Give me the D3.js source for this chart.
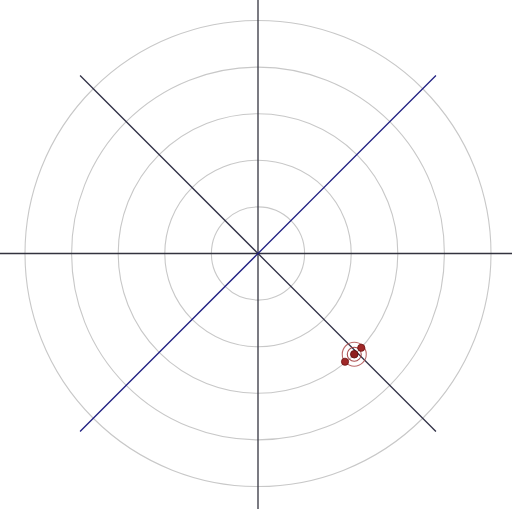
<!DOCTYPE html>
<html><head><meta charset="utf-8">
<script src="https://cdn.jsdelivr.net/npm/d3@7"></script>
<style>html,body{margin:0;padding:0;background:#fff;}svg{display:block;}</style>
</head><body>
<svg id="chart" width="512" height="509"></svg>
<script>
// Data
const ringValues = [1, 2, 3, 4, 5];
const axisAngles = [0, 90];           // full-length axes (degrees, clockwise from east)
const diagAngles = [45, 135];         // diagonal axes
const diagExtent = 5.4;               // diagonal half-length in radial units
const pointAngles = [42.4, 51.2];     // individual points (degrees)
const pointRadii = [3.0, 2.98];
const meanAngle = [46.3];
const meanRadius = [2.99];

const svg = d3.select("#chart");
const cx = 258, cy = 253.5;
const r = d3.scaleLinear().domain([0, 5]).range([0, 233]);
const g = svg.append("g").attr("transform", `translate(${cx},${cy})`);
const rad = a => a * Math.PI / 180;

g.selectAll("circle.ring").data(ringValues).enter().append("circle")
  .attr("class", "ring").attr("r", d => r(d))
  .attr("fill", "none").attr("stroke", "#c8c8c8").attr("stroke-width", 1.1);

g.selectAll("line.axis").data(axisAngles).enter().append("line")
  .attr("x1", d => -r(6) * Math.cos(rad(d))).attr("y1", d => -r(6) * Math.sin(rad(d)))
  .attr("x2", d => r(6) * Math.cos(rad(d))).attr("y2", d => r(6) * Math.sin(rad(d)))
  .attr("stroke", "#33333f").attr("stroke-width", 1.3);

const diagColors = ["#2e2e44", "#1e1e80"];
g.selectAll("line.diag").data(diagAngles).enter().append("line")
  .attr("x1", d => -r(diagExtent) * Math.cos(rad(d))).attr("y1", d => -r(diagExtent) * Math.sin(rad(d)))
  .attr("x2", d => r(diagExtent) * Math.cos(rad(d))).attr("y2", d => r(diagExtent) * Math.sin(rad(d)))
  .attr("stroke", (d, i) => diagColors[i]).attr("stroke-width", 1.3);

const mx = r(meanRadius[0]) * Math.cos(rad(meanAngle[0]));
const my = r(meanRadius[0]) * Math.sin(rad(meanAngle[0]));
g.append("circle").attr("cx", mx).attr("cy", my).attr("r", 12)
  .attr("fill", "none").attr("stroke", "#b05050").attr("stroke-width", 1.1).attr("opacity", 0.85);
g.append("circle").attr("cx", mx).attr("cy", my).attr("r", 7)
  .attr("fill", "none").attr("stroke", "#a03838").attr("stroke-width", 1.1).attr("opacity", 0.9);

g.selectAll("circle.pt").data(pointAngles).enter().append("circle")
  .attr("cx", (d, i) => r(pointRadii[i]) * Math.cos(rad(d)))
  .attr("cy", (d, i) => r(pointRadii[i]) * Math.sin(rad(d)))
  .attr("r", 3.6).attr("fill", "#a02828").attr("stroke", "#6a1010").attr("stroke-width", 0.8);

g.append("circle").attr("cx", mx).attr("cy", my).attr("r", 3.8)
  .attr("fill", "#8e1f1f").attr("stroke", "#5a0c0c").attr("stroke-width", 0.8);
</script>
</body></html>
